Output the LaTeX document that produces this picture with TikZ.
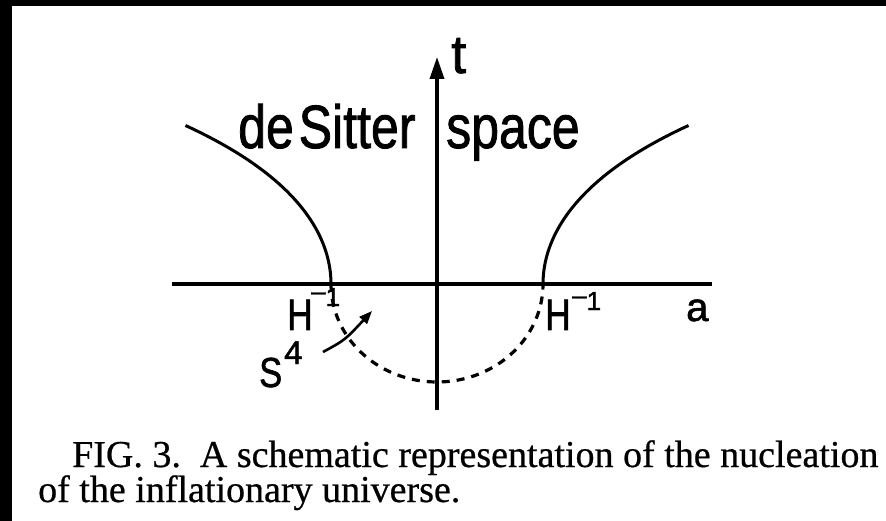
\documentclass[tikz,border=0pt]{standalone}
\usepackage{fontspec}
\usepackage{graphicx}
\setmainfont{Liberation Serif}[FakeBold=0.6]
\newfontfamily\labfont{Liberation Sans}[FakeBold=1.5]
\usetikzlibrary{arrows.meta}
\begin{document}
\begin{tikzpicture}[x=1pt,y=-1pt,
  axisline/.style={line width=3.6pt},
  curveline/.style={line width=3pt},
  dashcurve/.style={line width=3.2pt, dash pattern=on 8pt off 7pt},
  lab/.style={inner sep=0pt, anchor=base west},
  captext/.style={inner sep=0pt, anchor=base west, font=\fontsize{38}{38}\selectfont},
]
\useasboundingbox (0,0) rectangle (886,521);
\fill[black] (0,0) rectangle (886,521);
\fill[white] (12,6) rectangle (886,521);

% axes
\coordinate (xleft) at (172,284);
\coordinate (xright) at (712,284);
\coordinate (tbot) at (437,410);
\coordinate (ttop) at (437,57);
\draw[axisline] (xleft) -- (xright);
\draw[line width=3.4pt, -{Triangle[length=22pt,width=14pt]}] (tbot) -- (ttop);

% de Sitter hyperbola branches
\draw[curveline] plot[domain=0:1.51, samples=40, smooth] ({437-106*cosh(\x)},{284-105*\x});
\draw[curveline] plot[domain=0:1.51, samples=40, smooth] ({437+106*cosh(\x)},{284-105*\x});

% Euclidean half sphere
\draw[dashcurve] plot[domain=180:360, samples=60, smooth] ({437+106*cos(\x)},{284-98*sin(\x)});

% labels
\node[lab, font=\labfont\fontsize{61}{61}\selectfont] (ds) at (238,148) {\scalebox{0.82}[1]{de\hspace{6pt}Sitter}};
\node[lab, font=\labfont\fontsize{61}{61}\selectfont] (sp) at (446,148) {\scalebox{0.82}[1]{space}};
\node[lab, font=\labfont\fontsize{54}{54}\selectfont] (tl) at (451,73) {t};
\node[lab, font=\labfont\fontsize{44}{44}\selectfont] (hlH) at (287,330) {\scalebox{0.8}[1]{H}};
\node[lab, font=\labfont\fontsize{26}{26}\selectfont] (hlS) at (311,306) {\raisebox{6pt}{–}1};
\node[lab, font=\labfont\fontsize{44}{44}\selectfont] (hrH) at (545,330) {\scalebox{0.8}[1]{H}};
\node[lab, font=\labfont\fontsize{26}{26}\selectfont] (hrS) at (572,310) {\raisebox{6pt}{–}1};
\node[lab, font=\labfont\fontsize{40}{40}\selectfont] (al) at (686,321) {a};
\node[lab, font=\labfont\fontsize{42}{42}\selectfont] (sS) at (259,387) {\scalebox{0.82}[1]{S}};
\node[lab, font=\labfont\fontsize{33}{33}\selectfont] (s4) at (284,364) {4};

% S4 pointer
\coordinate (s4a) at (323,352);
\coordinate (s4b) at (372,311);
\draw[line width=2.6pt, -{Triangle[length=13pt,width=10pt]}] (s4a) .. controls (345,340) .. (s4b);

% caption
\node[captext] (cap1) at (72,467) {FIG. 3.\ \ A schematic representation of the nucleation};
\node[captext] (cap2) at (38,502) {of the inflationary universe.};
\end{tikzpicture}
\end{document}
